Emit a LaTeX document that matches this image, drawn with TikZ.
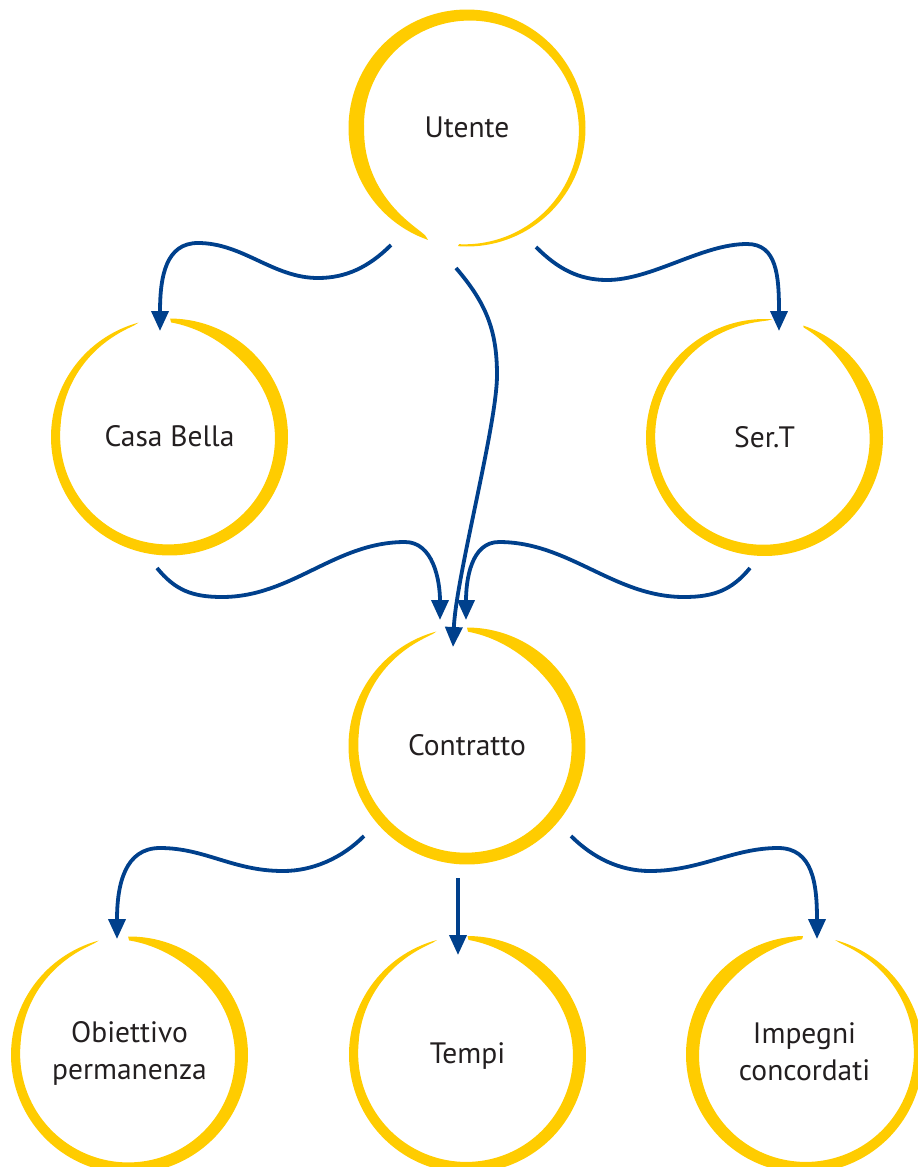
\documentclass[tikz,border=0pt]{standalone}
\usepackage{fontspec}
\setmainfont{PT Sans}
\usetikzlibrary{arrows.meta}
\definecolor{ringcol}{RGB}{255,204,0}
\definecolor{arrcol}{RGB}{0,64,140}
\definecolor{txtcol}{RGB}{35,31,32}
\newcommand\Rr{118.5}
% #1 cx, #2 cy, #3 start angle, #4 sweep, #5 width at start, #6 width at end, #7 end taper, #8 start factor, #9 start taper
\newcommand\ringstroke[9]{%
  \fill[ringcol] plot[domain=0:1,samples=161,variable=\t]
    ({#1+\Rr*cos(#3+(#4)*\t)},{#2-\Rr*sin(#3+(#4)*\t)})
  -- plot[domain=1:0,samples=161,variable=\t]
    ({#1+(\Rr-((#5)+((#6)-(#5))*\t)*sqrt(max(0,min(1,(1-\t)/(#7))))*((#8)+(1-(#8))*sin(90*min(1,max(0,\t)/(#9)))))*cos(#3+(#4)*\t)},
     {#2-(\Rr-((#5)+((#6)-(#5))*\t)*sqrt(max(0,min(1,(1-\t)/(#7))))*((#8)+(1-(#8))*sin(90*min(1,max(0,\t)/(#9)))))*sin(#3+(#4)*\t)})
  -- cycle;}
\begin{document}
\begin{tikzpicture}[x=1pt,y=-1pt,
  lbl/.style={text=txtcol,font=\fontsize{29.5}{37}\selectfont,anchor=base,inner sep=0pt},
  conn/.style={draw=arrcol,line width=3.8pt,-{Triangle[length=20pt,width=17pt]}}]
\useasboundingbox (0,0) rectangle (918,1167);
\clip (0,0) rectangle (918,1167);
% rings
\ringstroke{467}{128}{-94.4}{345.2}{2}{19}{0.2}{1}{1}
\ringstroke{169.5}{437}{89.7}{-344.5}{15}{7.5}{0.2}{0.25}{0.15}
\ringstroke{764.5}{437.5}{70.9}{-344.6}{15}{7}{0.15}{0.1}{0.15}
\ringstroke{467}{746}{90}{-345}{16}{8}{0.2}{0.25}{0.15}
\ringstroke{129.5}{1055}{90.7}{-345.6}{15}{7.5}{0.2}{0.25}{0.15}
\ringstroke{467.5}{1054.5}{90}{-345}{15}{7.5}{0.2}{0.25}{0.15}
\ringstroke{804.5}{1054.5}{90.7}{344.2}{15}{7.5}{0.2}{0.2}{0.15}
% labels
\node[lbl] (ut) at (467,137) {Utente};
\node[lbl] (cb) at (169.5,446) {Casa Bella};
\node[lbl] (st) at (764.5,447) {Ser.T};
\node[lbl] (ct) at (467,755) {Contratto};
\node[lbl] (te) at (467.5,1063) {Tempi};
\node[lbl] (ob) at (129.5,1042) {Obiettivo};
\node[lbl] (ob2) at (129.5,1079) {permanenza};
\node[lbl] (im) at (804.5,1043) {Impegni};
\node[lbl] (im2) at (804.5,1080) {concordati};
% connector ends
\coordinate (ut-l) at (391,245);
\coordinate (ut-m) at (456,268);
\coordinate (ut-r) at (536,247);
\coordinate (cb-in) at (160,331);
\coordinate (st-in) at (779,331);
\coordinate (cb-out) at (157,568);
\coordinate (st-out) at (750,568);
\coordinate (ct-inl) at (440,620);
\coordinate (ct-inm) at (453,647);
\coordinate (ct-inr) at (466,620);
\coordinate (ct-l) at (364,836);
\coordinate (ct-m) at (458,878);
\coordinate (ct-r) at (571,836);
\coordinate (ob-in) at (117,939);
\coordinate (te-in) at (458,955);
\coordinate (im-in) at (817,939);
% connectors
\draw[conn] (ut-l) .. controls +(-22,22) and +(28,0) .. (318,278)
  .. controls +(-45,0) and +(45,0) .. (198,243)
  .. controls +(-32,0) and +(0,-55) .. (cb-in);
\draw[conn] (ut-r) .. controls +(22,22) and +(-28,0) .. (607,280)
  .. controls +(45,0) and +(-45,0) .. (747,244)
  .. controls +(30,0) and +(0,-55) .. (st-in);
\draw[conn] (ut-m) .. controls +(30,35) and +(0,-45) .. (497,375)
  .. controls +(0,50) and +(3,-70) .. (ct-inm);
\draw[conn] (cb-out) .. controls +(18,22) and +(-30,0) .. (222,597)
  .. controls +(70,0) and +(-70,0) .. (405,542)
  .. controls +(28,0) and +(0,-40) .. (ct-inl);
\draw[conn] (st-out) .. controls +(-18,22) and +(30,0) .. (684,597)
  .. controls +(-70,0) and +(70,0) .. (499,542)
  .. controls +(-28,0) and +(0,-40) .. (ct-inr);
\draw[conn] (ct-l) .. controls +(-22,22) and +(30,0) .. (283,871)
  .. controls +(-50,0) and +(45,0) .. (160,848)
  .. controls +(-35,0) and +(0,-55) .. (ob-in);
\draw[conn] (ct-m) -- (te-in);
\draw[conn] (ct-r) .. controls +(22,22) and +(-30,0) .. (650,871)
  .. controls +(50,0) and +(-45,0) .. (778,848)
  .. controls +(35,0) and +(0,-55) .. (im-in);
\end{tikzpicture}
\end{document}
